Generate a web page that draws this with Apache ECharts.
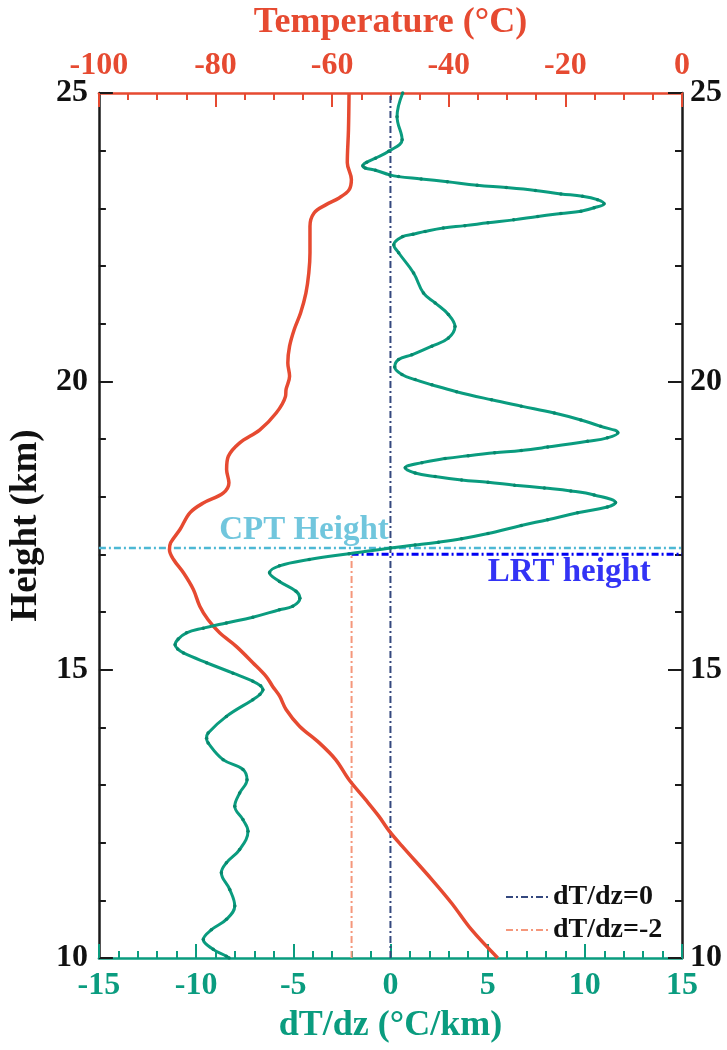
<!DOCTYPE html>
<html>
<head>
<meta charset="utf-8">
<script src="https://cdn.jsdelivr.net/npm/echarts@6/dist/echarts.min.js"></script>
<style>
  html, body { margin: 0; padding: 0; background: #fff; }
  #main { width: 727px; height: 1050px; }
</style>
</head>
<body>
<div id="main"></div>
<script>
// temperature profile (red, top axis)
var tempHeights = [25.0, 24.36, 23.79, 23.50, 23.32, 23.18, 23.06, 22.92, 22.69, 22.23, 21.88, 21.53, 21.19, 20.90,
  20.61, 20.32, 20.09, 19.86, 19.74, 19.45, 19.16, 18.93, 18.70, 18.47, 18.24, 18.06, 17.89, 17.72, 17.43, 17.20,
  17.08, 16.91, 16.68, 16.39, 16.10, 15.87, 15.64, 15.40, 15.12, 14.88, 14.71, 14.54, 14.31, 14.02, 13.73, 13.44,
  13.09, 12.75, 12.46, 12.20, 11.94, 11.36, 10.95, 10.49, 10.0];
var tempValues = [-57.1, -57.2, -57.4, -56.7, -57.1, -58.8, -61.1, -63.1, -63.8, -63.8, -64.0, -64.5, -65.4, -66.5,
  -67.3, -67.6, -67.3, -67.9, -68.0, -69.6, -72.4, -75.9, -77.8, -78.1, -77.7, -78.7, -82.1, -84.4, -86.1, -87.7,
  -87.9, -87.2, -85.5, -83.8, -82.7, -81.3, -79.3, -76.4, -73.6, -71.3, -70.2, -69.0, -67.9, -65.6, -62.2, -59.4,
  -57.1, -54.3, -52.0, -50.2, -48.0, -42.9, -39.5, -36.1, -31.6];

// lapse rate dT/dz (green, bottom axis)
var gradHeights = [25.0, 24.59, 24.19, 23.99, 23.87, 23.80, 23.74, 23.70, 23.66, 23.58, 23.55, 23.51, 23.46, 23.40,
  23.36, 23.31, 23.25, 23.21, 23.15, 23.08, 23.01, 22.95, 22.91, 22.86, 22.80, 22.75, 22.70, 22.66, 22.60, 22.55,
  22.51, 22.37, 22.23, 21.88, 21.53, 21.36, 21.16, 20.95, 20.75, 20.61, 20.46, 20.38, 20.25, 20.12, 20.03, 19.94,
  19.82, 19.68, 19.57, 19.45, 19.33, 19.22, 19.11, 19.02, 18.96, 18.86, 18.80, 18.76, 18.71, 18.66, 18.59, 18.50,
  18.41, 18.35, 18.29, 18.25, 18.20, 18.15, 18.10, 18.03, 17.90, 17.82, 17.72, 17.60, 17.50, 17.36, 17.27, 17.21,
  17.16, 17.11, 17.01, 16.91, 16.80, 16.68, 16.53, 16.36, 16.24, 16.10, 16.04, 15.91, 15.81, 15.72, 15.64, 15.53,
  15.43, 15.36, 15.29, 15.12, 14.94, 14.80, 14.72, 14.65, 14.57, 14.48, 14.19, 13.90, 13.81, 13.73, 13.44, 13.27,
  13.09, 12.86, 12.63, 12.40, 12.20, 11.88, 11.65, 11.48, 11.19, 10.90, 10.67, 10.49, 10.32, 10.15, 10.03, 10.0];
var gradValues = [0.63, 0.34, 0.60, -0.09, -0.77, -1.22, -1.42, -1.30, -0.77, -0.04, 0.42, 1.58, 2.93, 4.46,
  5.96, 7.46, 8.77, 9.88, 10.65, 10.99, 10.48, 9.80, 8.77, 7.58, 6.34, 5.02, 3.83, 2.72, 1.78, 1.16,
  0.63, 0.17, 0.42, 1.19, 1.70, 2.30, 2.98, 3.32, 2.98, 2.13, 1.10, 0.42, 0.22, 0.59, 1.27, 2.13,
  3.40, 5.20, 6.73, 8.43, 9.80, 10.82, 11.70, 11.16, 10.14, 8.09, 6.73, 5.36, 4.00, 2.81, 1.62, 0.76,
  1.27, 2.30, 3.66, 5.02, 6.39, 7.92, 9.28, 10.48, 11.58, 11.16, 9.63, 8.09, 6.73, 5.02, 3.66, 2.47,
  1.27, 0.0, -2.13, -4.18, -5.71, -6.22, -5.71, -4.86, -4.66, -5.03, -5.71, -7.08, -8.44, -9.63, -10.49, -10.92,
  -11.08, -10.95, -10.65, -9.46, -8.10, -7.08, -6.68, -6.56, -6.72, -7.08, -8.44, -9.38, -9.46, -9.38, -8.61, -7.59,
  -7.38, -7.76, -8.01, -7.59, -7.33, -7.76, -8.44, -8.70, -8.27, -8.01, -8.44, -9.21, -9.63, -9.12, -8.44, -8.30];

var cptHeight = 17.11;
var lrtHeight = 17.0;
var refGrads = [0, -2];
var legendNames = ['dT/dz=0', 'dT/dz=-2'];

var RED = '#E64A31';
var GREEN = '#0A9C7F';
var NAVY = '#34487E';
var SALMON = '#F5977B';
var CPT_BLUE = '#4DB8D4';
var LRT_BLUE = '#0000F2';
var FONT = '"Liberation Serif", "Times New Roman", serif';
var DASHDOT = [7, 3, 2, 3];

function pairs(xs, ys) {
  return xs.map(function (x, i) { return [x, ys[i]]; });
}

function tickStyle(color) {
  return {
    axisLine: { show: true, onZero: false, lineStyle: { color: color, width: 2.5 } },
    axisTick: { show: true, inside: true, length: 14, lineStyle: { color: color, width: 2 } },
    minorTick: { show: true, length: 7, lineStyle: { color: color, width: 2 } },
    splitLine: { show: false },
    minorSplitLine: { show: false }
  };
}

var chart = echarts.init(document.getElementById('main'));

var xBottom = Object.assign({
  type: 'value', position: 'bottom', min: -15, max: 15, interval: 5,
  name: 'dT/dz (°C/km)', nameLocation: 'middle', nameGap: 50,
  nameTextStyle: { color: GREEN, fontSize: 36, fontWeight: 'bold', fontFamily: FONT },
  axisLabel: { color: GREEN, fontSize: 32, fontWeight: 'bold', fontFamily: FONT, margin: 12 }
}, tickStyle(GREEN));
xBottom.minorTick.splitNumber = 5;

var xTop = Object.assign({
  type: 'value', position: 'top', min: -100, max: 0, interval: 20,
  name: 'Temperature (°C)', nameLocation: 'middle', nameGap: 52,
  nameTextStyle: { color: RED, fontSize: 36, fontWeight: 'bold', fontFamily: FONT },
  axisLabel: { color: RED, fontSize: 32, fontWeight: 'bold', fontFamily: FONT, margin: 11 }
}, tickStyle(RED));
xTop.minorTick.splitNumber = 4;

var yLeft = Object.assign({
  type: 'value', position: 'left', min: 10, max: 25, interval: 5,
  name: 'Height (km)', nameLocation: 'middle', nameGap: 46,
  nameTextStyle: { color: '#111', fontSize: 37, fontWeight: 'bold', fontFamily: FONT },
  axisLabel: { color: '#111', fontSize: 32, fontWeight: 'bold', fontFamily: FONT, margin: 11 }
}, tickStyle('#1a1a1a'));
yLeft.minorTick.splitNumber = 5;

var yRight = Object.assign({
  type: 'value', position: 'right', min: 10, max: 25, interval: 5,
  axisLabel: { color: '#111', fontSize: 32, fontWeight: 'bold', fontFamily: FONT, margin: 8 }
}, tickStyle('#1a1a1a'));
yRight.minorTick.splitNumber = 5;

var option = {
  animation: false,
  backgroundColor: '#fff',
  grid: { left: 95, right: 45, top: 93, bottom: 92 },
  xAxis: [xBottom, xTop],
  yAxis: [yLeft, yRight],
  legend: {
    data: legendNames,
    orient: 'vertical',
    left: 500, top: 878,
    itemWidth: 42, itemHeight: 14, itemGap: 5,
    itemStyle: { opacity: 0 },
    textStyle: { color: '#111', fontSize: 28, fontWeight: 'bold', fontFamily: FONT }
  },
  series: [
    {
      name: 'CPT', type: 'line', xAxisIndex: 0, yAxisIndex: 0, symbol: 'none', silent: true,
      data: [[-15, cptHeight], [15, cptHeight]],
      lineStyle: { color: CPT_BLUE, width: 2.5, type: DASHDOT }
    },
    {
      name: 'LRT', type: 'line', xAxisIndex: 0, yAxisIndex: 0, symbol: 'none', silent: true,
      data: [[refGrads[1], lrtHeight], [15, lrtHeight]],
      lineStyle: { color: LRT_BLUE, width: 3, type: DASHDOT }
    },
    {
      name: legendNames[0], type: 'line', xAxisIndex: 0, yAxisIndex: 0, symbol: 'none',
      data: [[refGrads[0], 10], [refGrads[0], 25]],
      itemStyle: { color: NAVY },
      lineStyle: { color: NAVY, width: 2, type: DASHDOT }
    },
    {
      name: legendNames[1], type: 'line', xAxisIndex: 0, yAxisIndex: 0, symbol: 'none',
      data: [[refGrads[1], 10], [refGrads[1], lrtHeight]],
      itemStyle: { color: SALMON },
      lineStyle: { color: SALMON, width: 2, type: DASHDOT }
    },
    {
      name: 'Temperature', type: 'line', xAxisIndex: 1, yAxisIndex: 0,
      data: pairs(tempValues, tempHeights),
      smooth: 0.35, symbol: 'none',
      lineStyle: { color: RED, width: 3.5 }
    },
    {
      name: 'dT/dz', type: 'line', xAxisIndex: 0, yAxisIndex: 0,
      data: pairs(gradValues, gradHeights),
      smooth: 0.4, symbol: 'circle', symbolSize: 3.5, showSymbol: true,
      itemStyle: { color: '#08876d' },
      lineStyle: { color: GREEN, width: 3 }
    },
    {
      name: 'labels', type: 'scatter', xAxisIndex: 0, yAxisIndex: 0, symbolSize: 0, silent: true,
      data: [
        { value: [-4.45, 17.41], label: { show: true, position: 'inside', formatter: 'CPT Height', color: CPT_BLUE,
          fontSize: 33, fontWeight: 'bold', fontFamily: FONT } },
        { value: [9.2, 16.68], label: { show: true, position: 'inside', formatter: 'LRT height', color: LRT_BLUE,
          fontSize: 33, fontWeight: 'bold', fontFamily: FONT } }
      ]
    }
  ]
};

chart.setOption(option);
</script>
</body>
</html>
